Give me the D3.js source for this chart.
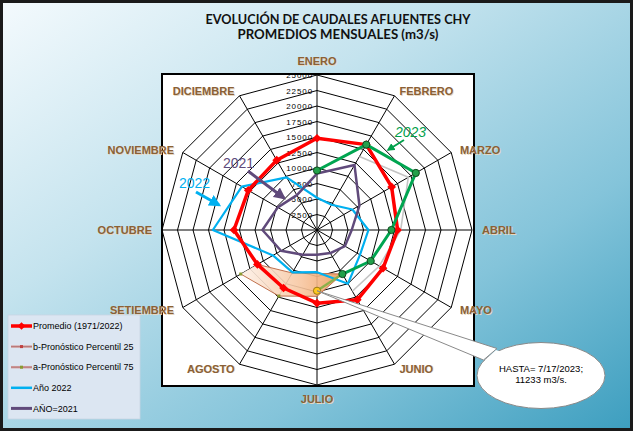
<!DOCTYPE html>
<html><head><meta charset="utf-8">
<script src="https://cdn.jsdelivr.net/npm/d3@7"></script>
<style>body{margin:0;background:#fff;} svg{display:block;}</style>
</head><body>
<svg id="chart" width="633" height="431"></svg>
<script>
// ---------------- DATA ----------------
const months = ["ENERO","FEBRERO","MARZO","ABRIL","MAYO","JUNIO","JULIO","AGOSTO","SETIEMBRE","OCTUBRE","NOVIEMBRE","DICIEMBRE"];
const promedio = [14800, 15900, 13900, 13000, 12300, 13000, 11800, 10800, 11100, 13400, 12800, 13000];
const anio2023Months = ["ENERO","FEBRERO","MARZO","ABRIL","MAYO","JUNIO","JULIO"];
const anio2023 = [9600, 15900, 18400, 12000, 10000, 8200, 9800];
const anio2022 = [5200, 4700, 6600, 8300, 8000, 10000, 6800, 7900, 8200, 16800, 14000, 9800];
const anio2021 = [9100, 12100, 7900, 5600, 5200, 4300, 4000, 4600, 6700, 8800, 7300, 6500];
const pctMonths = ["JUNIO","JULIO","AGOSTO","SETIEMBRE"];
const percentil25 = [8200, 7000, 8000, 11100];
const percentil75 = [8200, 10700, 12300, 14200];
const grayMonths = ["FEBRERO","MARZO","ABRIL","MAYO","JUNIO"];
const grayLine = [13700, 17000, 13500, 11600, 11400];
const tickValues = [2500, 5000, 7500, 10000, 12500, 15000, 17500, 20000, 22500, 25000];
const titleLines = ["EVOLUCIÓN DE CAUDALES AFLUENTES CHY", "PROMEDIOS MENSUALES (m3/s)"];
const legendLabels = ["Promedio (1971/2022)", "b-Pronóstico Percentil 25", "a-Pronóstico Percentil 75", "Año 2022", "AÑO=2021"];
const calloutLines = ["HASTA= 7/17/2023;", "11233 m3/s."];
const yearLabels = ["2023", "2021", "2022"];

// ---------------- SETUP ----------------
const W = 633, H = 431, cx = 317, cy = 230;
const svg = d3.select("#chart");
const defs = svg.append("defs");

const bg = defs.append("linearGradient").attr("id","bg").attr("x1",0).attr("y1",0).attr("x2",1).attr("y2",1);
bg.append("stop").attr("offset","0%").attr("stop-color","#f4fafd");
bg.append("stop").attr("offset","35%").attr("stop-color","#c4e3ee");
bg.append("stop").attr("offset","70%").attr("stop-color","#84c4da");
bg.append("stop").attr("offset","100%").attr("stop-color","#3c9ebf");

const og = defs.append("linearGradient").attr("id","og").attr("x1",0).attr("y1",0).attr("x2",1).attr("y2",0);
og.append("stop").attr("offset","0%").attr("stop-color","#fdf1e8");
og.append("stop").attr("offset","60%").attr("stop-color","#f7c6a0");
og.append("stop").attr("offset","100%").attr("stop-color","#ee9a58");

function arrowDef(id, color){
  defs.append("marker").attr("id",id).attr("viewBox","0 0 10 10").attr("refX",8).attr("refY",5)
    .attr("markerWidth",4).attr("markerHeight",4).attr("orient","auto")
    .append("path").attr("d","M0,0 L10,5 L0,10 z").attr("fill",color);
}
arrowDef("agreen","#00a04a");
arrowDef("apurple","#604a7b");
arrowDef("ablue","#00b0f0");

svg.append("rect").attr("x",0).attr("y",0).attr("width",W).attr("height",H).attr("fill","url(#bg)");
svg.append("rect").attr("x",1.5).attr("y",1.5).attr("width",W-3).attr("height",H-3)
  .attr("fill","none").attr("stroke","#1a1a1a").attr("stroke-width",3);

// Title
svg.selectAll("text.title").data(titleLines).join("text").attr("class","title")
  .attr("x",338).attr("y",(d,i)=>23.5+i*15).attr("text-anchor","middle")
  .attr("font-family","Lato, 'Open Sans', sans-serif").attr("font-weight",700).attr("font-size",13)
  .attr("fill","#111")
  .attr("textLength",(d,i)=> i===0?265:201).attr("lengthAdjust","spacingAndGlyphs")
  .text(d=>d);

// Plot box
svg.append("rect").attr("x",162).attr("y",74).attr("width",312).attr("height",312)
  .attr("fill","#fff").attr("stroke","#000").attr("stroke-width",2);

// Scales
const r = d3.scaleLinear().domain([0,25000]).range([0,155]);
const ang = d3.scalePoint().domain(months).range([0, 2*Math.PI*11/12]);
const pt = (m,v)=>[cx + r(v)*Math.sin(ang(m)), cy - r(v)*Math.cos(ang(m))];

const g = svg.append("g").attr("transform",`translate(${cx},${cy})`);

// Grid rings
const ring = d3.lineRadial().angle(m=>ang(m)).curve(d3.curveLinearClosed);
g.selectAll("path.ring").data(tickValues).join("path").attr("class","ring")
  .attr("d", t => ring.radius(r(t))(months))
  .attr("fill","none").attr("stroke","#000").attr("stroke-width",1);
g.selectAll("line.spoke").data(months).join("line").attr("class","spoke")
  .attr("x1",0).attr("y1",0)
  .attr("x2",m=>r(25000)*Math.sin(ang(m))).attr("y2",m=>-r(25000)*Math.cos(ang(m)))
  .attr("stroke","#000").attr("stroke-width",1);

// tick labels
g.selectAll("text.tick").data(tickValues).join("text").attr("class","tick")
  .attr("x",-4).attr("y",t=>-r(t)+3)
  .attr("text-anchor","end").attr("font-family","'Liberation Sans', Arial, sans-serif")
  .attr("font-size",8).attr("letter-spacing",0.9).attr("fill","#000")
  .text(t=>t);

// Month labels
const monthG = svg.append("g");
function labelPos(m){
  const a = ang(m), s = Math.sin(a), c = Math.cos(a);
  let x, y, anchor;
  if (Math.abs(s) < 1e-6){ x = cx; y = cy - 169*c; anchor = "middle"; }
  else { x = cx + 165*s; y = cy - 160*c; anchor = s>0 ? "start" : "end"; }
  return {x, y: y+4, anchor};
}
[["#e8d8c0",0.8,0.8],["#8a6036",0,0]].forEach(([col,dx,dy])=>{
  monthG.selectAll(null).data(months).join("text")
    .attr("x",m=>labelPos(m).x+dx).attr("y",m=>labelPos(m).y+dy)
    .attr("text-anchor",m=>labelPos(m).anchor)
    .attr("font-family","'Liberation Sans', Arial, sans-serif").attr("font-weight",700)
    .attr("font-size",11).attr("fill",col).text(m=>m);
});

// Percentile band (area)
const pctData = pctMonths.map((m,i)=>({m, lo:percentil25[i], hi:percentil75[i]}));
g.append("path").datum(pctData)
  .attr("d", d3.areaRadial().angle(d=>ang(d.m)).innerRadius(d=>r(d.lo)).outerRadius(d=>r(d.hi)))
  .attr("fill","url(#og)").attr("fill-opacity",0.9);
const lr = d3.lineRadial().angle(d=>ang(d.m)).radius(d=>r(d.v));
g.append("path").datum(pctMonths.map((m,i)=>({m,v:percentil75[i]})))
  .attr("d",lr).attr("fill","none").attr("stroke","#c0704d").attr("stroke-width",1);
g.append("path").datum(pctMonths.map((m,i)=>({m,v:percentil25[i]})))
  .attr("d",lr).attr("fill","none").attr("stroke","#c0704d").attr("stroke-width",1);
g.selectAll("rect.p75").data(pctMonths.slice(2).map((m,i)=>({m,v:percentil75[i+2]}))).join("rect")
  .attr("x",d=>r(d.v)*Math.sin(ang(d.m))-1.5).attr("y",d=>-r(d.v)*Math.cos(ang(d.m))-1.5)
  .attr("width",3).attr("height",3).attr("fill","#8a9a30");

// gray forecast line
g.append("path").datum(grayMonths.map((m,i)=>({m,v:grayLine[i]})))
  .attr("d",lr).attr("fill","none").attr("stroke","#c4c4c4").attr("stroke-width",1.6);

// 2022 (blue) and 2021 (purple)
const closed = d3.lineRadial().angle(d=>ang(d.m)).radius(d=>r(d.v)).curve(d3.curveLinearClosed);
g.append("path").datum(months.map((m,i)=>({m,v:anio2022[i]})))
  .attr("d",closed).attr("fill","none").attr("stroke","#00b0f0").attr("stroke-width",2.2).attr("stroke-linejoin","round");
g.append("path").datum(months.map((m,i)=>({m,v:anio2021[i]})))
  .attr("d",closed).attr("fill","none").attr("stroke","#604a7b").attr("stroke-width",2.5).attr("stroke-linejoin","round");

// Promedio (red)
const promData = months.map((m,i)=>({m,v:promedio[i]}));
g.append("path").datum(promData)
  .attr("d",closed).attr("fill","none").attr("stroke","#ff0000").attr("stroke-width",3.5).attr("stroke-linejoin","round");
g.selectAll("path.dia").data(promData).join("path").attr("class","dia")
  .attr("d", d3.symbol(d3.symbolSquare, 38))
  .attr("transform",d=>`translate(${r(d.v)*Math.sin(ang(d.m))},${-r(d.v)*Math.cos(ang(d.m))}) rotate(45)`)
  .attr("fill","#ff0000");

// 2023 (green)
const d23 = anio2023Months.map((m,i)=>({m,v:anio2023[i]}));
g.append("path").datum(d23.slice(0,6))
  .attr("d",lr).attr("fill","none").attr("stroke","#00a550").attr("stroke-width",3).attr("stroke-linejoin","round");
g.append("path").datum(d23.slice(5))
  .attr("d",lr).attr("fill","none").attr("stroke","#8db04a").attr("stroke-width",2.5);
g.selectAll("circle.g23").data(d23).join("circle").attr("class","g23")
  .attr("cx",d=>r(d.v)*Math.sin(ang(d.m))).attr("cy",d=>-r(d.v)*Math.cos(ang(d.m)))
  .attr("r",3.6)
  .attr("fill",(d,i)=> i===d23.length-1 ? "#ffc820" : "#22a04a")
  .attr("stroke",(d,i)=> i===d23.length-1 ? "#9a7a10" : "#0e4a1e").attr("stroke-width",1);

// Callout
const last = d23[d23.length-1];
const tip = pt(last.m, last.v);
const ecx = 541, ecy = 375.5, erx = 64, ery = 33;
const b1 = [497, 348.5], b2 = [483.5, 360];
svg.append("path").attr("d",`M${tip[0]},${tip[1]} L${b1[0]},${b1[1]} L${b2[0]},${b2[1]} Z`)
  .attr("fill","#fff").attr("stroke","#8a8a8a").attr("stroke-width",1);
svg.append("ellipse").attr("cx",ecx).attr("cy",ecy).attr("rx",erx).attr("ry",ery)
  .attr("fill","#fff").attr("stroke","#8a8a8a").attr("stroke-width",1);
svg.append("path").attr("d",`M${b1[0]-1},${b1[1]+1.5} L${b2[0]+1.5},${b2[1]} L${b2[0]+12},${b2[1]+2} L${b1[0]+6},${b1[1]+4} Z`)
  .attr("fill","#fff");
svg.selectAll("text.call").data(calloutLines).join("text").attr("class","call")
  .attr("x",ecx).attr("y",(d,i)=>372+i*11).attr("text-anchor","middle")
  .attr("font-family","'Liberation Sans', Arial, sans-serif").attr("font-size",9.5).attr("fill","#000")
  .text(d=>d);

// Year annotations
const annG = svg.append("g").attr("font-family","'Liberation Sans', Arial, sans-serif").attr("font-size",14);
annG.append("text").attr("x",395).attr("y",137).attr("fill","#00a04a").attr("font-style","italic").text(yearLabels[0]);
annG.append("line").attr("x1",404).attr("y1",140).attr("x2",388).attr("y2",150)
  .attr("stroke","#00a04a").attr("stroke-width",2).attr("marker-end","url(#agreen)");
annG.append("text").attr("x",223).attr("y",168).attr("fill","#604a7b").text(yearLabels[1]);
annG.append("line").attr("x1",248).attr("y1",171).attr("x2",284).attr("y2",198)
  .attr("stroke","#604a7b").attr("stroke-width",3).attr("marker-end","url(#apurple)");
annG.append("text").attr("x",179).attr("y",188).attr("fill","#00b0f0").text(yearLabels[2]);
annG.append("line").attr("x1",196).attr("y1",192).attr("x2",219).attr("y2",205)
  .attr("stroke","#00b0f0").attr("stroke-width",3).attr("marker-end","url(#ablue)");

// Legend
const lg = svg.append("g");
lg.append("rect").attr("x",8).attr("y",315).attr("width",132).attr("height",104)
  .attr("fill","#dce6f2").attr("stroke","#c8d4e4").attr("stroke-width",0.8);
const ly = i => 326 + i*20.6;
const lgItems = lg.selectAll("g.it").data(legendLabels).join("g").attr("class","it");
lgItems.append("text").attr("x",33).attr("y",(d,i)=>ly(i)+3.2)
  .attr("font-family","'Liberation Sans', Arial, sans-serif").attr("font-size",9).attr("fill","#000")
  .text(d=>d);
lg.append("line").attr("x1",11).attr("x2",32).attr("y1",ly(0)).attr("y2",ly(0)).attr("stroke","#ff0000").attr("stroke-width",3.5);
lg.append("path").attr("d",d3.symbol(d3.symbolSquare,30)).attr("transform",`translate(21.5,${ly(0)}) rotate(45)`).attr("fill","#ff0000");
[1,2].forEach(i=>{
  lg.append("line").attr("x1",11).attr("x2",32).attr("y1",ly(i)).attr("y2",ly(i)).attr("stroke","#d4a4a4").attr("stroke-width",2.5);
  lg.append("line").attr("x1",11).attr("x2",32).attr("y1",ly(i)).attr("y2",ly(i)).attr("stroke","#b06a6a").attr("stroke-width",0.8);
  lg.append("rect").attr("x",20).attr("y",ly(i)-1.5).attr("width",3).attr("height",3).attr("fill", i===1?"#c04040":"#8a9a30");
});
lg.append("line").attr("x1",11).attr("x2",32).attr("y1",ly(3)).attr("y2",ly(3)).attr("stroke","#00b0f0").attr("stroke-width",2.5);
lg.append("line").attr("x1",11).attr("x2",32).attr("y1",ly(4)).attr("y2",ly(4)).attr("stroke","#604a7b").attr("stroke-width",3);
</script>
</body></html>
